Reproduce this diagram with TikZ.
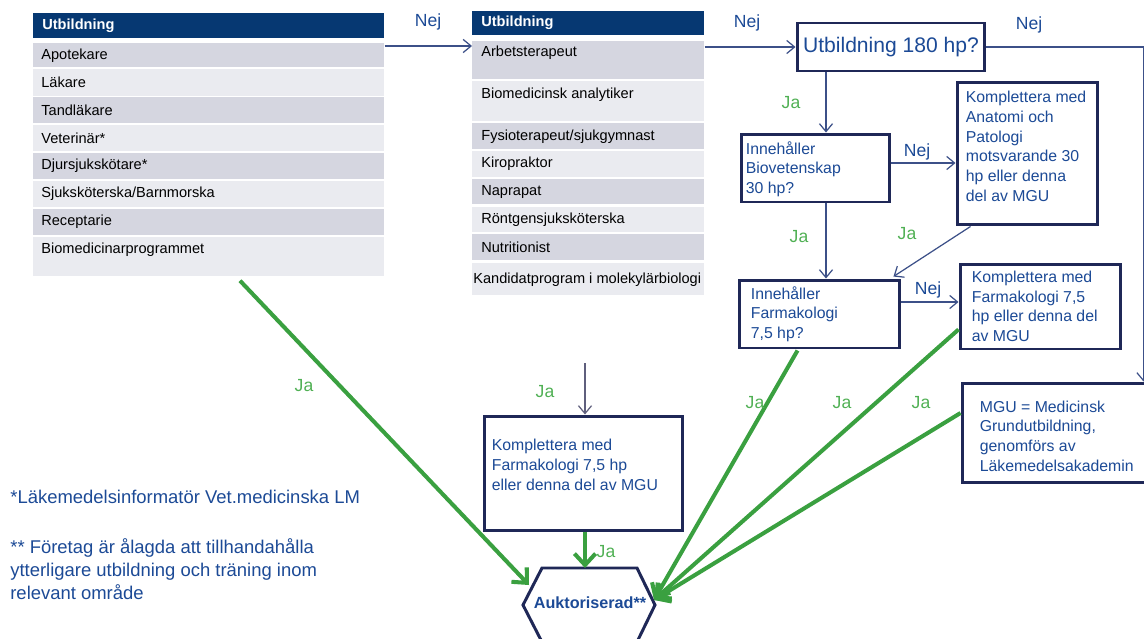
\documentclass[tikz,border=0pt]{standalone}
\usepackage{fontspec}
\setmainfont{Liberation Sans}
\usetikzlibrary{arrows.meta,calc}
\definecolor{hdblue}{RGB}{6,56,114}
\definecolor{rowd}{RGB}{213,214,224}
\definecolor{rowl}{RGB}{234,235,240}
\definecolor{boxline}{RGB}{31,40,87}
\definecolor{txtblue}{RGB}{28,74,150}
\definecolor{linkblue}{RGB}{60,80,136}
\definecolor{linkgray}{RGB}{95,95,125}
\definecolor{jagreen}{RGB}{58,160,64}
\definecolor{jatext}{RGB}{80,176,84}

\begin{document}
\begin{tikzpicture}[x=0.02cm, y=-0.02cm,
    >={Straight Barb[length=4.5pt,width=7.5pt]},
    row/.style={anchor=north west, inner sep=0pt, minimum width=#1},
    rowtxt/.style={anchor=west, inner sep=0pt, font=\fontsize{8.3}{10}\selectfont},
    hdtxt/.style={rowtxt, text=white, font=\fontsize{8.3}{10}\selectfont\bfseries},
    qbox/.style={draw=boxline, line width=1.7pt, fill=white, inner sep=0pt},
    boxtxt/.style={anchor=west, text=txtblue, align=left, inner sep=0pt, font=\fontsize{9}{11.2}\selectfont},
    nej/.style={text=txtblue, inner sep=0pt, font=\fontsize{10}{12}\selectfont},
    ja/.style={text=jatext, inner sep=0pt, font=\fontsize{10}{12}\selectfont},
    link/.style={draw=linkblue, line width=0.7pt},
    yes/.style={draw=jagreen, line width=2.3pt, -{Straight Barb[length=6.5pt,width=12pt]}}]
    \useasboundingbox (0,0) rectangle (1144,639);

    % first table
    \node[row=7.02cm, fill=hdblue, minimum height=0.5cm] (u1h) at (33,13) {};
    \node[hdtxt] (u1ht) at (42,26) {Utbildning};
    \foreach \t/\h/\c/\txt [count=\i] in {43/24/rowd/Apotekare, 69/27/rowl/Läkare,
        97/26/rowd/Tandläkare, 125/26/rowl/Veterinär*, 153/26/rowd/Djursjukskötare*,
        181/26/rowl/{Sjuksköterska/Barnmorska}, 209/26/rowd/Receptarie,
        237/39/rowl/Biomedicinarprogrammet}
    {
        \node[row=7.02cm, fill=\c, minimum height=\h*0.02cm] (u1r\i) at (33,\t) {};
        \node[rowtxt] (u1t\i) at (41,\t+13) {\txt};
    }

    % second table
    \node[row=4.64cm, fill=hdblue, minimum height=0.48cm] (u2h) at (472,11) {};
    \node[hdtxt] (u2ht) at (481,23) {Utbildning};
    \foreach \t/\h/\c/\txt/\dy/\xx [count=\i] in {41/38/rowd/Arbetsterapeut/12/481,
        81/40/rowl/Biomedicinsk analytiker/14/481, 123/26/rowd/{Fysioterapeut/sjukgymnast}/14/481,
        151/26/rowl/Kiropraktor/13/481, 179/25/rowd/Naprapat/13/481,
        207/25/rowl/Röntgensjuksköterska/13/481, 234/26/rowd/Nutritionist/13/481,
        263/32/rowl/Kandidatprogram i molekylärbiologi/17/473}
    {
        \node[row=4.64cm, fill=\c, minimum height=\h*0.02cm] (u2r\i) at (472,\t) {};
        \node[rowtxt] (u2t\i) at (\xx,\t+\dy) {\txt};
    }

    % question boxes
    \node[qbox, minimum width=3.76cm, minimum height=0.96cm, text=txtblue,
        font=\fontsize{12}{14}\selectfont] (q180) at (891,47) {Utbildning 180 hp?};
    \node[qbox, minimum width=2.98cm, minimum height=1.36cm] (qbio) at (815.5,168) {};
    \node[boxtxt] (qbio-t) at ($(qbio.west)+(6,1)$) {Innehåller\\Biovetenskap\\30 hp?};
    \node[qbox, minimum width=2.82cm, minimum height=2.86cm] (kanat) at (1027.5,153.5) {};
    \node[boxtxt] (kanat-t) at ($(kanat.west)+(10,-7)$) {Komplettera med\\Anatomi och\\Patologi\\motsvarande 30\\hp eller denna\\del av MGU};
    \node[qbox, minimum width=3.22cm, minimum height=1.36cm] (qfarm) at (819.5,314) {};
    \node[boxtxt] (qfarm-t) at ($(qfarm.west)+(13,0)$) {Innehåller\\Farmakologi\\7,5 hp?};
    \node[qbox, minimum width=3.22cm, minimum height=1.7cm] (kfarm) at (1040.5,306.5) {};
    \node[boxtxt] (kfarm-t) at ($(kfarm.west)+(13,0)$) {Komplettera med\\Farmakologi 7,5\\hp eller denna del\\av MGU};
    \node[qbox, minimum width=3.76cm, minimum height=2cm] (mgu) at (1056,433) {};
    \node[boxtxt] (mgu-t) at ($(mgu.west)+(19,3)$) {MGU = Medicinsk\\Grundutbildning,\\genomförs av\\Läkemedelsakademin};
    \node[qbox, minimum width=3.98cm, minimum height=2.3cm] (kfarm2) at (583.5,473.5) {};
    \node[boxtxt, font=\fontsize{9}{11.4}\selectfont] (kfarm2-t) at ($(kfarm2.west)+(9,-9)$) {Komplettera med\\Farmakologi 7,5 hp\\eller denna del av MGU};

    % end
    \node[text=txtblue, inner sep=0pt, font=\fontsize{9.2}{11}\selectfont\bfseries] (auk) at (590,603) {Auktoriserad**};
    \draw[draw=boxline, line width=1.7pt] (auk.center) ++(-67,2) -- ++(19,-37) -- ++(95,0)
        -- ++(18,37) -- ++(-18,37) -- ++(-95,0) -- cycle;
    \coordinate (hexL) at ($(auk)+(-61,-18)$);
    \coordinate (hexR) at ($(auk)+(64,-3)$);
    \coordinate (hexT) at ($(auk)+(-5,-35)$);
    \coordinate (vcol) at (826,0);
    \coordinate (midtop) at (585,363);

    % thin connectors
    \draw[link,->] ($(u1r1.north east)+(0,3)$) -- ($(u2r1.north west)+(0,5)$);
    \draw[link,->] (u2r1.north east |- q180.west) -- (q180.west);
    \draw[link,->] (q180.east) -| ($(mgu.north east)+(-8,0)$);
    \draw[link,->] (q180.south -| vcol) -- (qbio.north -| vcol);
    \draw[link,->] ([yshift=0.1cm]qbio.east) -- ([yshift=0.1cm]qbio.east -| kanat.west);
    \draw[link,->] (qbio.south -| vcol) -- (qfarm.north -| vcol);
    \draw[link,->] ($(kanat.south west)+(15,0)$) -- ($(qfarm.north east)+(-8,-2)$);
    \draw[link,->] ([yshift=0.24cm]qfarm.east) -- ([yshift=0.24cm]qfarm.east -| kfarm.west);
    \draw[link, draw=linkgray,->] (midtop) -- (kfarm2.north -| midtop);

    % green ja arrows
    \draw[yes] ($(u1r8.south west)+(207,4)$) -- (hexL);
    \draw[yes] ($(qfarm.south west)+(60,1)$) -- (hexR);
    \draw[yes] ($(kfarm.south west)+(0,-21)$) -- (hexR);
    \draw[yes] ($(mgu.west)+(0,-20)$) -- (hexR);
    \draw[yes] (kfarm2.south -| hexT) -- (hexT);

    % labels
    \node[nej] (nej1) at (428,22) {Nej};
    \node[nej] (nej2) at (747,23) {Nej};
    \node[nej] (nej3) at (1029,25) {Nej};
    \node[nej] (nej4) at (917,152) {Nej};
    \node[nej] (nej5) at (928,290) {Nej};
    \node[ja] (ja1) at (791,103) {Ja};
    \node[ja] (ja2) at (799,237) {Ja};
    \node[ja] (ja3) at (907,234) {Ja};
    \node[ja] (ja4) at (304,386) {Ja};
    \node[ja] (ja5) at (545,392) {Ja};
    \node[ja] (ja6) at (755,403) {Ja};
    \node[ja] (ja7) at (842,403) {Ja};
    \node[ja] (ja8) at (921,403) {Ja};
    \node[ja] (ja9) at (606,552) {Ja};

    % footnotes
    \node[anchor=west, text=txtblue, inner sep=0pt, font=\fontsize{10.5}{13.2}\selectfont] (fn1) at (10,497) {*Läkemedelsinformatör Vet.medicinska LM};
    \node[anchor=west, align=left, text=txtblue, inner sep=0pt, font=\fontsize{10.5}{13.2}\selectfont] (fn2) at (10,569) {** Företag är ålagda att tillhandahålla\\ytterligare utbildning och träning inom\\relevant område};
\end{tikzpicture}
\end{document}
